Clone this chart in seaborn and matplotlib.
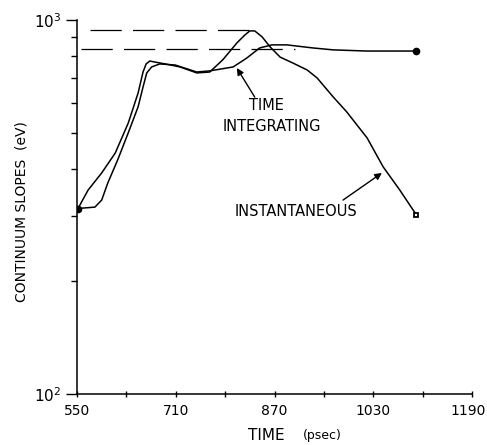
import numpy as np
import pandas as pd
import matplotlib
matplotlib.use("Agg")
import matplotlib.pyplot as plt
import matplotlib.transforms as mtransforms
import seaborn as sns
from matplotlib.ticker import FixedLocator, NullFormatter, LogFormatterSciNotation

# Instantaneous continuum slope vs time
inst_time = [551, 568, 590, 612, 633, 649, 657, 662, 668, 676, 693, 717, 744,
             765, 786, 809, 822, 830, 838, 850, 863, 879, 900, 923, 939, 965,
             987, 1020, 1046, 1073, 1100]
inst_slope = [312, 351, 390, 441, 530, 638, 726, 763, 777, 772, 763, 749, 722,
              726, 782, 868, 912, 935, 935, 901, 847, 796, 767, 735, 700, 623,
              568, 484, 405, 351, 301]

# Time-integrated continuum slope vs time
int_time = [551, 558, 579, 590, 600, 616, 633, 649, 657, 663, 671, 684, 709,
            744, 765, 803, 825, 846, 866, 890, 932, 965, 1020, 1100]
int_slope = [312, 314, 316, 330, 367, 423, 499, 586, 662, 722, 749, 763, 758,
             726, 731, 749, 791, 842, 858, 858, 842, 832, 826, 826]

# Reference levels (dashed): peak instantaneous and integrated values
upper_level, upper_span = 940, (571, 838)
lower_level, lower_span = 836, (556, 903)

x_ticks = [550, 710, 870, 1030, 1190]
x_minor = [630, 790, 950, 1110]

df = pd.concat([
    pd.DataFrame({"time": inst_time, "slope": inst_slope, "series": "INSTANTANEOUS"}),
    pd.DataFrame({"time": int_time, "slope": int_slope, "series": "TIME INTEGRATING"}),
], ignore_index=True)

sns.set_style("ticks")
plt.rcParams["font.family"] = ["DejaVu Sans"]
plt.rcParams.update({"text.color": "black", "axes.labelcolor": "black",
                     "xtick.color": "black", "ytick.color": "black"})

fig = plt.figure(figsize=(4.87, 4.45), dpi=100)
ax = fig.add_axes([77 / 487, 1 - 394 / 445, (472 - 77) / 487, (394 - 20) / 445])

sns.lineplot(data=df, x="time", y="slope", hue="series",
             palette=["black", "black"], sort=False, estimator=None,
             legend=False, linewidth=1.1, ax=ax)

# end-point markers
ax.plot([inst_time[0]], [inst_slope[0]], "o", color="black", ms=4.5)
ax.plot([int_time[-1]], [int_slope[-1]], "o", color="black", ms=4.5)
ax.plot([inst_time[-1]], [inst_slope[-1]], "s", color="black", ms=3.5,
        mfc="white", mew=1.3)

ax.plot(upper_span, [upper_level] * 2, color="black", lw=0.9, dashes=(25, 9))
ax.plot(lower_span, [lower_level] * 2, color="black", lw=0.9, dashes=(25, 9))

ax.set_yscale("log")
ax.set_xlim(550, 1190)
ax.set_ylim(100, 1000)

ax.yaxis.set_major_locator(FixedLocator([100, 1000]))
ax.yaxis.set_major_formatter(LogFormatterSciNotation())
ax.yaxis.set_minor_locator(FixedLocator([200, 300, 400, 500, 600, 700, 800, 900]))
ax.yaxis.set_minor_formatter(NullFormatter())
ax.tick_params(axis="y", which="major", direction="out", length=8, width=1,
               labelsize=11, pad=3)
ax.tick_params(axis="y", which="minor", direction="out", length=4, width=1)

ax.xaxis.set_major_locator(FixedLocator(x_ticks))
ax.set_xticklabels([str(t) for t in x_ticks])
ax.xaxis.set_minor_locator(FixedLocator(x_minor))
ax.tick_params(axis="x", which="both", direction="inout", length=5, width=1,
               labelsize=10, pad=5)
# keep the last tick label inside the canvas
last = ax.get_xticklabels()[-1]
last.set_transform(last.get_transform() +
                   mtransforms.ScaledTranslation(-4 / 100, 0, fig.dpi_scale_trans))

for side in ("top", "right"):
    ax.spines[side].set_visible(False)
for side in ("left", "bottom"):
    ax.spines[side].set_linewidth(1.1)
    ax.spines[side].set_color("black")

ax.set_xlabel("")
ax.set_ylabel("")
fig.text(22 / 487, 1 - 212 / 445, "CONTINUUM SLOPES  (eV)", fontsize=10,
         rotation=90, ha="center", va="center")

fig.text(266 / 487, 1 - 436 / 445, "TIME", fontsize=11, ha="center", va="center")
fig.text(322 / 487, 1 - 436 / 445, "(psec)", fontsize=9, ha="center", va="center")

ax.text(857, 592, "TIME", fontsize=10.5, ha="center", va="center")
ax.text(866, 520, "INTEGRATING", fontsize=10.5, ha="center", va="center")
ax.annotate("", xy=(809, 744), xytext=(838, 622),
            arrowprops=dict(arrowstyle="-|>", color="black", lw=1,
                            shrinkA=0, shrinkB=0, mutation_scale=10))
ax.text(905, 307, "INSTANTANEOUS", fontsize=10.5, ha="center", va="center")
ax.annotate("", xy=(1044, 390), xytext=(981, 330),
            arrowprops=dict(arrowstyle="-|>", color="black", lw=1,
                            shrinkA=0, shrinkB=0, mutation_scale=10))

fig.savefig("out.png", dpi=100)
